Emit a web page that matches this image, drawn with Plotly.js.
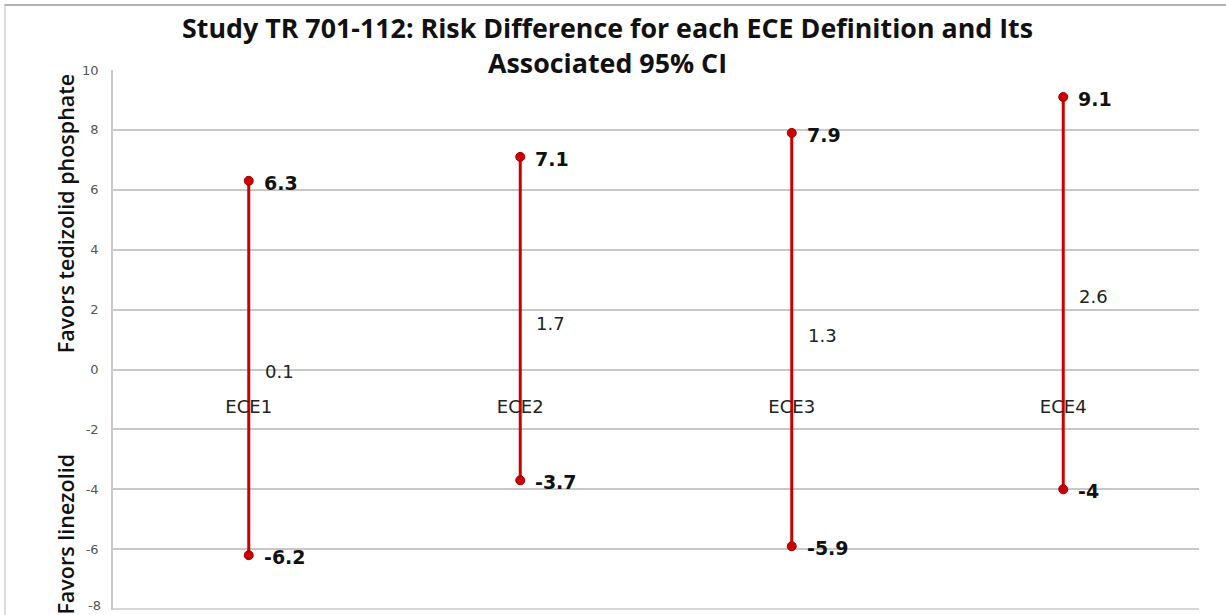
<!DOCTYPE html>
<html>
<head>
<meta charset="utf-8">
<script src="https://cdn.plot.ly/plotly-3.0.1.min.js"></script>
<style>html,body{margin:0;padding:0;background:#fff;}#chart{width:1226px;height:615px;}</style>
</head>
<body>
<div id="chart"></div>
<script>
const categories = ['ECE1', 'ECE2', 'ECE3', 'ECE4'];
const upperCI = [6.3, 7.1, 7.9, 9.1];
const lowerCI = [-6.2, -3.7, -5.9, -4];
const estimate = [0.1, 1.7, 1.3, 2.6];
const yTickVals = [-8, -6, -4, -2, 0, 2, 4, 6, 8, 10];
const yMin = -8;
const titleText = 'Study TR 701-112: Risk Difference for each ECE Definition and Its<br>Associated 95% CI';

const red = '#cc0000';
const traces = categories.map((c, i) => ({
  type: 'scatter',
  mode: 'lines+markers',
  x: [c, c],
  y: [lowerCI[i], upperCI[i]],
  line: {color: red, width: 3},
  marker: {color: red, size: 9, line: {color: '#a00000', width: 1}},
  hoverinfo: 'y',
  showlegend: false
}));

const annotations = [];
categories.forEach((c, i) => {
  [upperCI[i], lowerCI[i]].forEach(v => {
    annotations.push({
      x: c, y: v, xref: 'x', yref: 'y', text: String(v), showarrow: false,
      xanchor: 'left', yanchor: 'middle', xshift: 13, yshift: -2,
      font: {family: 'DejaVu Sans', size: 19, color: '#111', weight: 'bold'}
    });
  });
  annotations.push({
    x: c, y: estimate[i], xref: 'x', yref: 'y', text: String(estimate[i]), showarrow: false,
    xanchor: 'left', yanchor: 'middle', xshift: 14, yshift: -5,
    font: {family: 'DejaVu Sans', size: 18, color: '#222'}
  });
});
annotations.push({
  xref: 'paper', yref: 'paper', x: -0.044, y: 0.735, xanchor: 'center', yanchor: 'middle',
  text: 'Favors tedizolid phosphate', textangle: -90, showarrow: false,
  font: {family: 'Open Sans', size: 21.5, color: '#111', weight: 600}
});
annotations.push({
  xref: 'paper', yref: 'paper', x: -0.044, y: 0.14, xanchor: 'center', yanchor: 'middle',
  text: 'Favors linezolid', textangle: -90, showarrow: false,
  font: {family: 'Open Sans', size: 21.5, color: '#111', weight: 600}
});
annotations.push({
  xref: 'paper', yref: 'paper', x: 0.455, y: (610 - 7) / 540, xanchor: 'center', yanchor: 'top',
  text: titleText, showarrow: false, align: 'center',
  font: {family: 'Open Sans', size: 26.8, color: '#111', weight: 'bold'}
});
// bottom tick label that sits on the figure edge
annotations.push({
  xref: 'paper', yref: 'y', x: 0, y: yMin, xanchor: 'right', yanchor: 'middle', xshift: -10, yshift: 4,
  text: String(yMin), showarrow: false,
  font: {family: 'DejaVu Sans', size: 13, color: '#555'}
});

const layout = {
  width: 1226, height: 615,
  margin: {l: 113, r: 27, t: 70, b: 5},
  paper_bgcolor: '#fff', plot_bgcolor: '#fff',
  xaxis: {
    type: 'category', categoryorder: 'array', categoryarray: categories,
    range: [-0.5, 3.5], anchor: 'free', position: 8.03 / 18.03,
    showgrid: false, zeroline: false, showline: false,
    ticks: '', ticklabelstandoff: 24,
    tickfont: {family: 'DejaVu Sans', size: 18, color: '#222'}
  },
  yaxis: {
    range: [-8.03, 10], tickvals: yTickVals, ticktext: yTickVals.map(String),
    showgrid: true, gridcolor: '#c8c8c8', gridwidth: 1.5,
    zeroline: false, showline: true, linecolor: '#c8c8c8', linewidth: 1.5,
    ticks: '', ticklabelstandoff: 10,
    tickfont: {family: 'DejaVu Sans', size: 13, color: '#555'}
  },
  shapes: [
    {type: 'line', xref: 'paper', yref: 'y', x0: 0, x1: 1, y0: yMin, y1: yMin,
     line: {color: '#c8c8c8', width: 1.5}, layer: 'below'},
    {type: 'line', xref: 'paper', yref: 'paper', x0: -0.1, x1: 1.03, y0: (610 - 5) / 540, y1: (610 - 5) / 540,
     line: {color: '#999', width: 1.5}},
    {type: 'line', xref: 'paper', yref: 'paper', x0: (5 - 113) / 1086, x1: (5 - 113) / 1086, y0: -0.02, y1: (610 - 5) / 540,
     line: {color: '#bbb', width: 1}}
  ],
  annotations: annotations,
  showlegend: false
};

Plotly.newPlot('chart', traces, layout, {displayModeBar: false, responsive: false});
</script>
</body>
</html>
